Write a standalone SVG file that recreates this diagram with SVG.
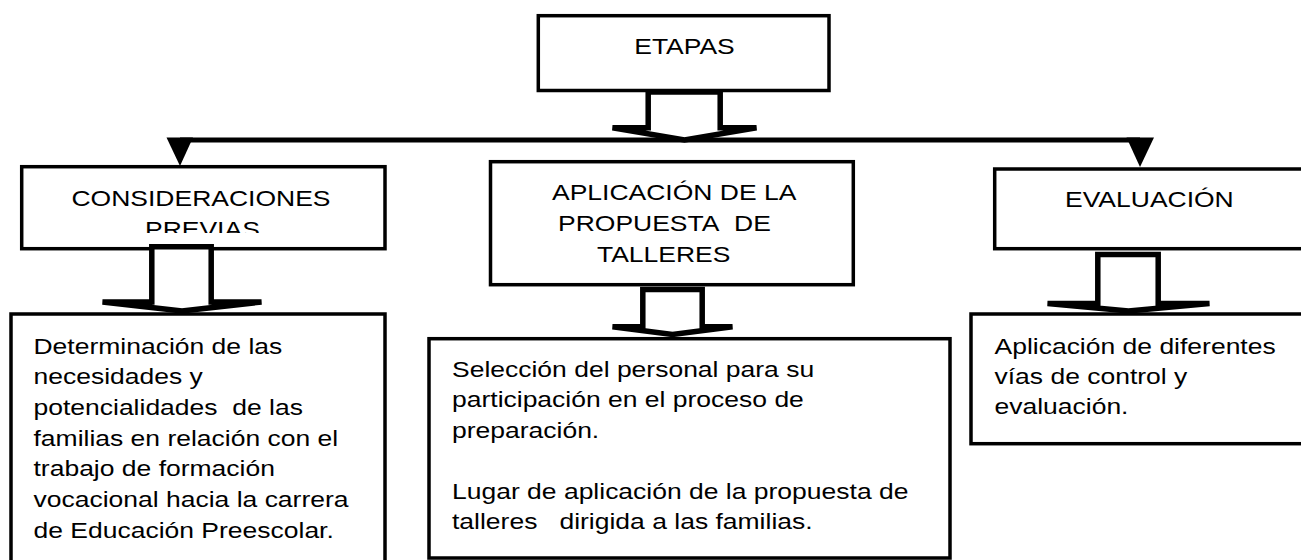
<svg xmlns="http://www.w3.org/2000/svg" width="1301" height="560" viewBox="0 0 1301 560">
  <style>
    .box { fill: #fff; stroke: #000; stroke-width: 3.5; }
    .t { font-family: "Liberation Sans", Arial, sans-serif; font-size: 23px; fill: #000; }
    .blk { fill: #fff; stroke: #000; stroke-width: 5.5; stroke-linejoin: miter; }
    .conn { fill: none; stroke: #000; stroke-width: 5; }
    .head { fill: #000; stroke: none; }
  </style>
  <defs>
    <clipPath id="clipCons">
      <rect x="21" y="166" width="364" height="67"/>
    </clipPath>
  </defs>
  <rect width="1301" height="560" fill="#fff"/>

  <g id="node-etapas">
    <rect class="box" x="538.3" y="15.7" width="290.7" height="74.8"/>
    <text class="t" text-anchor="middle" transform="translate(684.5,54) scale(1.152,1)">ETAPAS</text>
  </g>

  <g id="node-consideraciones">
    <rect class="box" x="21.7" y="166.7" width="363.3" height="82"/>
    <g clip-path="url(#clipCons)">
      <text class="t" transform="translate(71.5,206) scale(1.152,1)">CONSIDERACIONES</text>
      <text class="t" transform="translate(145,237) scale(1.152,1)">PREVIAS</text>
    </g>
  </g>

  <g id="node-aplicacion">
    <rect class="box" x="490.5" y="161.7" width="362.8" height="123"/>
    <text class="t" transform="translate(552,200) scale(1.152,1)">APLICACIÓN DE LA</text>
    <text class="t" transform="translate(558,231) scale(1.152,1)">PROPUESTA&#160; DE</text>
    <text class="t" transform="translate(597,262) scale(1.152,1)">TALLERES</text>
  </g>

  <g id="node-evaluacion">
    <rect class="box" x="994.7" y="169" width="318" height="79.7"/>
    <text class="t" transform="translate(1065,207) scale(1.152,1)">EVALUACIÓN</text>
  </g>

  <g id="node-determinacion">
    <rect class="box" x="11" y="314" width="374" height="260"/>
    <text class="t" transform="translate(33.5,353.5) scale(1.152,1)">
      <tspan x="0" dy="0">Determinación de las</tspan>
      <tspan x="0" dy="30.7">necesidades y</tspan>
      <tspan x="0" dy="30.7">potencialidades&#160; de las</tspan>
      <tspan x="0" dy="30.7">familias en relación con el</tspan>
      <tspan x="0" dy="30.7">trabajo de formación</tspan>
      <tspan x="0" dy="30.7">vocacional hacia la carrera</tspan>
      <tspan x="0" dy="30.7">de Educación Preescolar.</tspan>
    </text>
  </g>

  <g id="node-seleccion">
    <rect class="box" x="429" y="338.7" width="521" height="219.3"/>
    <text class="t" transform="translate(452,377) scale(1.152,1)">
      <tspan x="0" dy="0">Selección del personal para su</tspan>
      <tspan x="0" dy="30.5">participación en el proceso de</tspan>
      <tspan x="0" dy="30.5">preparación.</tspan>
      <tspan x="0" dy="61">Lugar de aplicación de la propuesta de</tspan>
      <tspan x="0" dy="30.5">talleres&#160;&#160; dirigida a las familias.</tspan>
    </text>
  </g>

  <g id="node-control">
    <rect class="box" x="971" y="314" width="342" height="129.7"/>
    <text class="t" transform="translate(994.5,353.5) scale(1.152,1)">
      <tspan x="0" dy="0">Aplicación de diferentes</tspan>
      <tspan x="0" dy="30.5">vías de control y</tspan>
      <tspan x="0" dy="30.5">evaluación.</tspan>
    </text>
  </g>

  <g id="connectors">
    <line class="conn" x1="180" y1="140" x2="1140" y2="140"/>
    <polygon class="head" points="166.5,137.5 193,137.5 180,166"/>
    <polygon class="head" points="1126.5,137.5 1154,137.5 1140,167"/>
    <path class="blk" d="M648.2,92 L720.2,92 L720.2,127.8 L756.5,127.8 L684.5,140 L612.5,127.8 L648.2,127.8 Z"/>
    <path class="blk" d="M151.8,246.8 L211.2,246.8 L211.2,302 L261.5,302 L182,311 L102.5,302 L151.8,302 Z"/>
    <path class="blk" d="M642.8,289.5 L702.2,289.5 L702.2,326.8 L732.5,326.8 L672.5,334.5 L612.5,326.8 L642.8,326.8 Z"/>
    <path class="blk" d="M1097.8,254.5 L1158.2,254.5 L1158.2,303.5 L1209.5,303.5 L1128.5,311 L1047.5,303.5 L1097.8,303.5 Z"/>
  </g>
</svg>
